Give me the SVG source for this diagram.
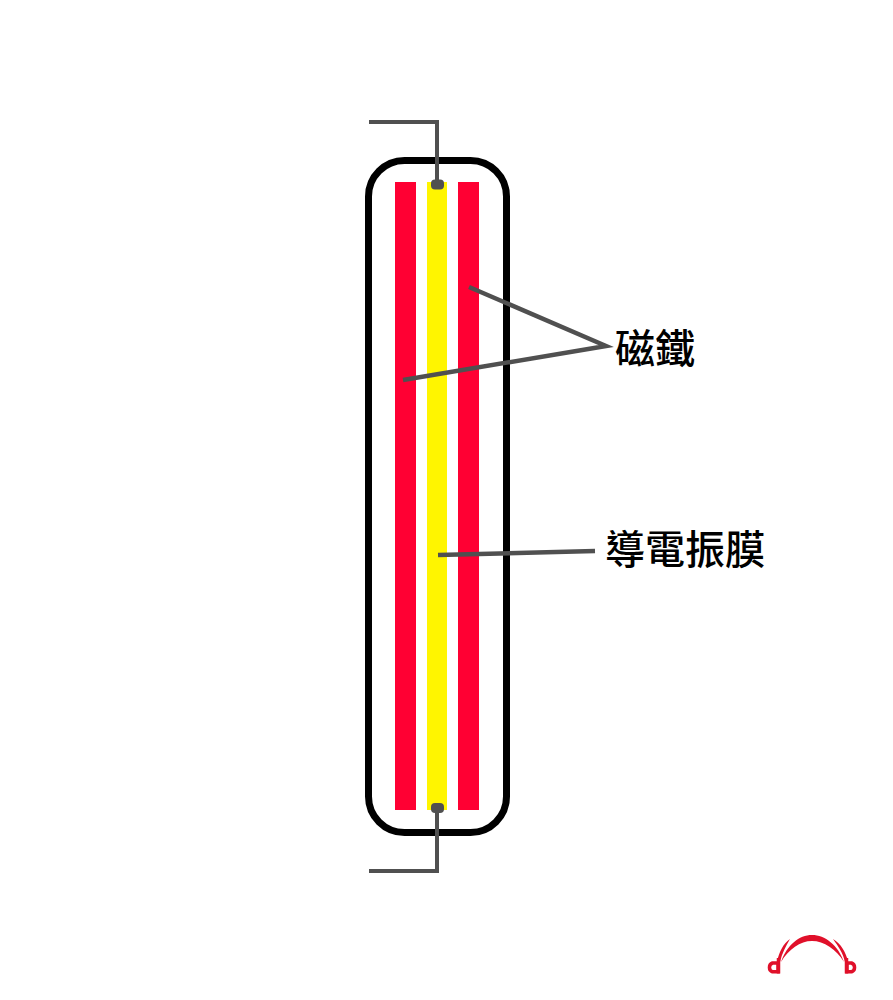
<svg xmlns="http://www.w3.org/2000/svg" width="893" height="1000" viewBox="0 0 893 1000">
<style>
.magnet{fill:#ff0033}
.lead{fill:none;stroke:#505050;stroke-width:4}
.pointer{fill:none;stroke:#505050;stroke-width:4.500}
.nub{fill:#505050}
.label{font-family:"Noto Sans CJK TC","Noto Sans CJK SC",sans-serif;font-size:40px;font-weight:500;fill:#000}
.logo-fill{fill:#e0102a}
.logo{fill:none;stroke:#e0102a;stroke-width:3.500}
</style>
<rect width="893" height="1000" fill="#fff"/>
<g id="case"><rect x="368.500" y="160.500" width="138" height="672" rx="36" ry="36" fill="#fff" stroke="#000" stroke-width="7"/></g>
<g id="magnet-left"><rect class="magnet" x="395" y="182" width="21" height="628"/></g>
<g id="diaphragm"><rect x="427" y="182" width="20" height="628" fill="#fff500"/></g>
<g id="magnet-right"><rect class="magnet" x="458" y="182" width="21" height="628"/></g>
<g id="connectors">
<path class="lead" d="M369 122H437V184"/>
<path class="lead" d="M369 871H437V806"/>
<rect class="nub" x="431" y="179.500" width="13" height="10" rx="4"/>
<rect class="nub" x="431" y="803" width="13" height="10" rx="4"/>
<path class="pointer" d="M469 287L606 346L403 380"/>
<path class="pointer" d="M438 555L595 551"/>
</g>
<g id="label-magnet"><text class="label" x="615" y="363">磁鐵</text></g>
<g id="label-diaphragm"><text class="label" x="605" y="564">導電振膜</text></g>
<g id="logo">
<path class="logo-fill" d="M781 962C787 945 799 935 812 935C825 935 838 945 844 962C836 949 824 941 812 941C800 941 789 949 781 962Z"/>
<path class="logo-fill" d="M777 962C779 952 783 944 790 939C786 946 782 953 780 962Z"/>
<path class="logo-fill" d="M848 962C846 952 841 944 833 939C838 946 843 953 845 962Z"/>
<path class="logo" d="M778 963H772.500A4.700 4.700 0 0 0 772.500 971.800H778Z"/>
<path class="logo" d="M847 963H851.500A4.700 4.700 0 0 1 851.500 971.800H847Z"/>
<path class="logo" d="M778.500 958V973.500M846.500 958V973.500"/>
</g>
</svg>
